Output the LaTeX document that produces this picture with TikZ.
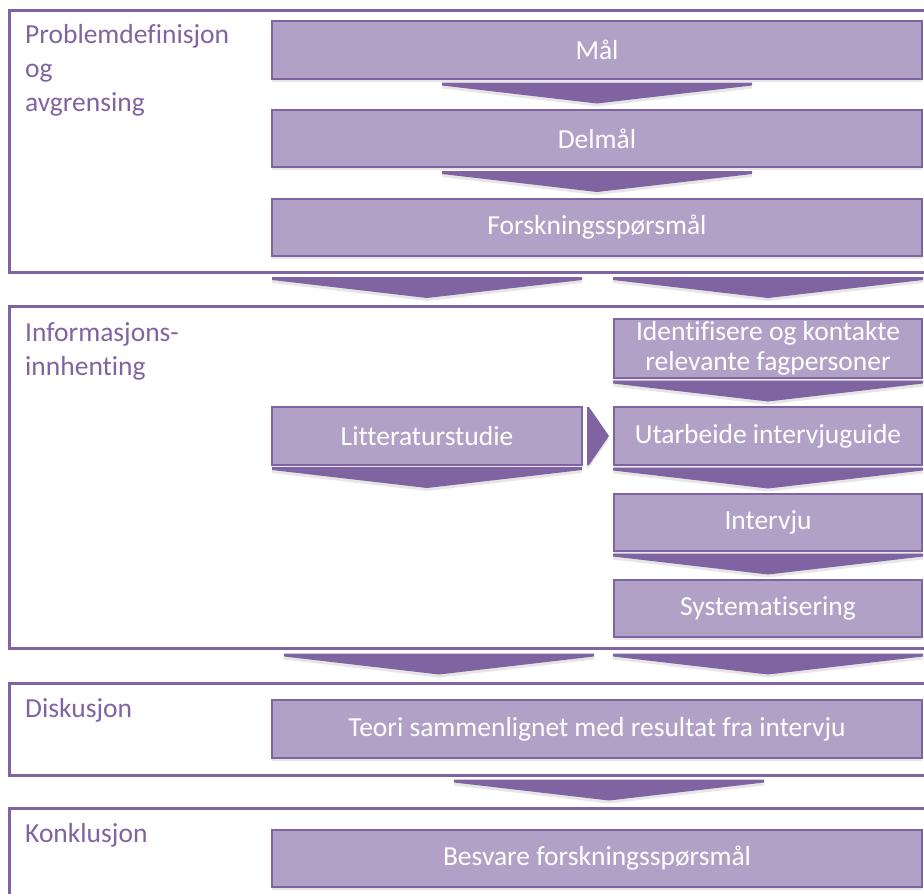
\documentclass[tikz,border=0pt]{standalone}
\usepackage{fontspec}
\setmainfont{Carlito}[Ligatures=NoCommon]
\usetikzlibrary{calc, shadows}
\definecolor{plum}{HTML}{8064A2}
\definecolor{lilac}{HTML}{B2A1C7}
\tikzset{
  chevdown/.pic={\fill[chev] (-155,-12) -- (155,-12) -- (155,-9) -- (0,9) -- (-155,-9) -- cycle;},
  chevright/.pic={\fill[chev] (-11,-29) -- (-9,-29) -- (11,0) -- (-9,29) -- (-11,29) -- cycle;}
}

\begin{document}
\begin{tikzpicture}[x=1pt, y=-1pt, font=\fontsize{27.5}{30}\selectfont]
        \tikzstyle{stage}=[draw=plum, line width=3pt, anchor=north west, inner sep=0pt, outer sep=0pt, minimum width=940pt]
        \tikzstyle{tag}=[anchor=base west, align=left, text=plum, inner sep=0pt, font=\fontsize{27.5}{34}\selectfont]
        \tikzstyle{task}=[draw=plum, line width=1.2pt, fill=lilac, text=white, align=center, anchor=north west, inner sep=0pt, outer sep=0pt,
          drop shadow={shadow xshift=0pt, shadow yshift=-3pt, opacity=.2}]
        \tikzstyle{chev}=[fill=plum, drop shadow={shadow xshift=0pt, shadow yshift=-3pt, opacity=.2}]
        \useasboundingbox (0,0) rectangle (924,894);

        \node[stage, minimum height=262pt] (prob) at (9,10)  {};
        \node[stage, minimum height=342pt] (info) at (9,306) {};
        \node[stage, minimum height=92pt]  (disk) at (9,683) {};
        \node[stage, minimum height=120pt] (konk) at (9,808) {};

        \node[tag] (probtag) at ([shift={(16,101)}]prob.north west) {Problemdefinisjon\\og\\avgrensing};
        \node[tag] (infotag) at ([shift={(16,69)}]info.north west) {Informasjons-\\innhenting};
        \node[tag] (disktag) at ([shift={(16,34)}]disk.north west) {Diskusjon};
        \node[tag] (konktag) at ([shift={(16,34)}]konk.north west) {Konklusjon};

        \node[task, minimum width=650pt, minimum height=58pt] (mal)      at (272,21)  {Mål};
        \node[task, minimum width=650pt, minimum height=57pt] (delmal)   at (272,110) {Delmål};
        \node[task, minimum width=650pt, minimum height=57pt] (forsk)    at (272,199) {Forskningsspørsmål};
        \node[task, minimum width=308pt, minimum height=59pt] (kontakt)  at (614,319) {Identifisere og kontakte\\relevante fagpersoner};
        \node[task, minimum width=310pt, minimum height=58pt] (lit)      at (272,407) {Litteraturstudie};
        \node[task, minimum width=308pt, minimum height=58pt] (guide)    at (614,407) {Utarbeide intervjuguide};
        \node[task, minimum width=308pt, minimum height=57pt] (intervju) at (614,494) {Intervju};
        \node[task, minimum width=308pt, minimum height=57pt] (system)   at (614,580) {Systematisering};
        \node[task, minimum width=650pt, minimum height=58pt] (teori)    at (272,700) {Teori sammenlignet med resultat fra intervju};
        \node[task, minimum width=650pt, minimum height=57pt] (svar)     at (272,830) {Besvare forskningsspørsmål};

        \coordinate (g1) at ($(prob.south)!.5!(info.north)$);
        \coordinate (g2) at ($(info.south)!.5!(disk.north)$);
        \coordinate (g3) at ($(disk.south)!.5!(konk.north)$);
        \coordinate (g2l) at (lit |- g2);
        \coordinate (g3m) at (teori |- g3);

        \pic at ($(mal.south)!.5!(delmal.north)$) {chevdown};
        \pic at ($(delmal.south)!.5!(forsk.north)$) {chevdown};
        \pic at (lit |- g1) {chevdown};
        \pic at (kontakt |- g1) {chevdown};
        \pic at ($(kontakt.south)!.5!(guide.north)$) {chevdown};
        \pic at ($(guide.south)!.5!(intervju.north)$) {chevdown};
        \pic at ($(intervju.south)!.5!(system.north)$) {chevdown};
        \pic at ([yshift=-14pt]lit.south) {chevdown};
        \pic at ($(lit.east)!.5!(guide.west)$) {chevright};
        \pic at ([xshift=12pt]g2l) {chevdown};
        \pic at (system |- g2) {chevdown};
        \pic at ([xshift=12pt]g3m) {chevdown};
\end{tikzpicture}
\end{document}
